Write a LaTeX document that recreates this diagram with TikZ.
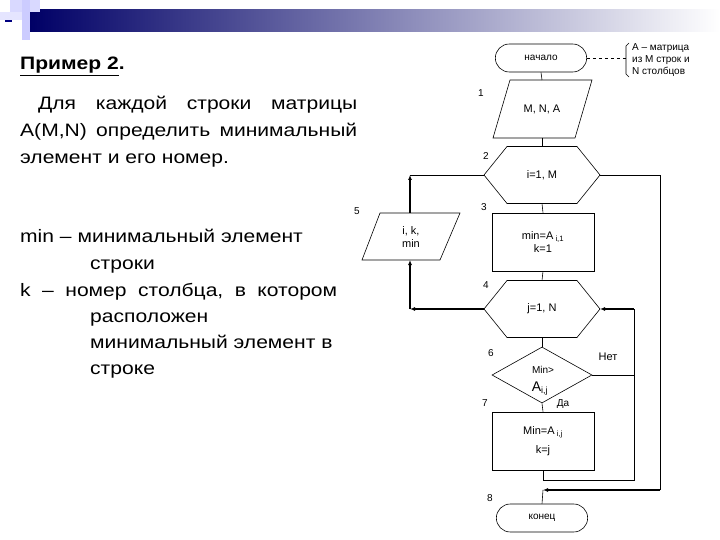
\documentclass[tikz,border=0pt]{standalone}
\usepackage{fontspec}
\setmainfont{Liberation Sans}
\newfontfamily\widefont[FakeStretch=1.17]{Liberation Sans}
\usetikzlibrary{shapes.geometric,shapes.misc,arrows.meta,calc}
\begin{document}
\begin{tikzpicture}[x=1pt,y=-1pt,
 ln/.style={draw=black,line width=0.6pt},
 tk/.style={draw=black,line width=1.3pt},
 ar/.style={-{Latex[length=5pt,width=4pt]}},
 sm/.style={font=\fontsize{11}{13}\selectfont},
 big/.style={font=\widefont\fontsize{18}{22}\selectfont,anchor=base west,inner sep=0pt},
 term/.style={ln,rounded rectangle,minimum width=98pt,minimum height=28pt,sm,font=\fontsize{10}{12}\selectfont},
 proc/.style={ln,rectangle,minimum width=102pt,minimum height=58pt,sm,align=center},
 bare/.style={align=center,sm,inner sep=0pt,minimum width=116pt,minimum height=57pt},
 num/.style={sm,font=\fontsize{10}{12}\selectfont}]
\useasboundingbox (0,0) rectangle (720,540);
\fill[white] (0,0) rectangle (720,540);
% header bar
\shade[left color=blue!40!black,right color=white] (30,10) rectangle (720,32);
\fill[blue!15] (10,0) rectangle (40,12);
\fill[blue!20] (22,0) rectangle (30,40);
\fill[blue!50!black] (5,14) rectangle (12,22);
\fill[blue!10] (0,12) rectangle (22,20);
% left text
\node[big,font=\widefont\fontsize{18}{22}\selectfont\bfseries] (t0) at (20,70) {\underline{Пример 2}.};
\node[big,text width=319pt] (t1) at (38,110) {Для\hfill каждой\hfill строки\hfill матрицы};
\node[big,text width=337pt] (t2) at (20,137) {A(M,N)\hfill определить\hfill минимальный};
\node[big] (t3) at (20,164) {элемент и его номер.};
\node[big] (t4) at (20,243) {min – минимальный элемент};
\node[big] (t5) at (90,269) {строки};
\node[big,text width=317pt] (t6) at (20,296) {k\hfill –\hfill номер\hfill столбца,\hfill в\hfill котором};
\node[big] (t7) at (90,322) {расположен};
\node[big] (t8) at (90,348) {минимальный элемент в};
\node[big] (t9) at (90,374) {строке};
% flowchart
\node[term] (start) at (541,58) {начало};
\node[bare] (p1) at (542,109) {M, N, A};
\draw[ln] ($(p1)+(-32,-29)$) -- ($(p1)+(50,-29)$) -- ($(p1)+(33,29)$) -- ($(p1)+(-49,29)$) -- cycle;
\node[bare] (h2) at (542,175) {i=1, M};
\draw[ln] ($(h2)+(-58,0)$) -- ($(h2)+(-35,-28.5)$) -- ($(h2)+(35,-28.5)$) -- ($(h2)+(58,0)$) -- ($(h2)+(35,28.5)$) -- ($(h2)+(-35,28.5)$) -- cycle;
\node[proc] (r3) at (543,242) {min=A\textsubscript{ i,1}\\k=1};
\node[bare] (h4) at (542,309) {j=1, N};
\draw[ln] ($(h4)+(-58,0)$) -- ($(h4)+(-35,-28.5)$) -- ($(h4)+(35,-28.5)$) -- ($(h4)+(58,0)$) -- ($(h4)+(35,28.5)$) -- ($(h4)+(-35,28.5)$) -- cycle;
\node[ln,diamond,aspect=1.8,minimum width=100pt,minimum height=56pt,inner sep=0pt] (d6) at (542,375) {};
\node[sm,font=\fontsize{10}{12}\selectfont] (d6a) at (543,370) {Min>};
\node[sm,font=\fontsize{14}{16}\selectfont] (d6b) at (540,389) {A\textsubscript{\fontsize{9}{10}\selectfont i,j}};
\node[proc] (r7) at (543,441) {Min=A\textsubscript{ i,j}\\[6pt]k=j};
\node[term] (end) at (542,518) {конец};
\node[bare,minimum width=80pt,minimum height=47pt] (p5) at (411,237) {i, k,\\min};
\draw[ln] ($(p5)+(-31,-24)$) -- ($(p5)+(49,-24)$) -- ($(p5)+(29,23)$) -- ($(p5)+(-49,23)$) -- cycle;
% numbers
\node[num] (n1) at (481,93) {1};
\node[num] (n2) at (486,156) {2};
\node[num] (n3) at (484,207) {3};
\node[num] (n4) at (486,285) {4};
\node[num] (n5) at (357,211) {5};
\node[num] (n6) at (491,353) {6};
\node[num] (n7) at (485,403) {7};
\node[num] (n8) at (490,498) {8};
\node[sm] (net) at (608,357) {Нет};
\node[sm,font=\fontsize{10}{12}\selectfont] (da) at (563,404) {Да};
% note
\node[sm,font=\fontsize{10}{12}\selectfont,align=left,anchor=west,inner sep=0pt] (note) at (632,60) {А – матрица\\из М строк и\\N столбцов};
\draw[ln] (629,43) -- (626,46) -- (626,74) -- (629,77);
\draw[ln,dashed] (start.east) -- (626,58);
% connectors
\draw[ln] (start.south) -- ($(p1)+(0,-29)$);
\draw[ln] ($(p1)+(0,29)$) -- ($(h2)+(0,-28.5)$);
\draw[ln] ($(h2)+(0,28.5)$) -- (r3.north);
\draw[ln] (r3.south) -- ($(h4)+(0,-28.5)$);
\draw[ln] ($(h4)+(0,28.5)$) -- (d6.north);
\draw[ln] (d6.south) -- (r7.north);
\coordinate (a1) at (410,309);
\coordinate (a2) at (410,175);
\coordinate (p5b) at (410,260);
\coordinate (p5t) at (410,213);
\draw[tk,ar] ($(h4)+(-58,0)$) -- (a1);
\draw[tk,ar] (a1) -- (p5b);
\draw[tk,ar] (p5t) -- (a2);
\draw[ln] (a2) -- ($(h2)+(-58,0)$);
\coordinate (b1) at (660,175);
\coordinate (b2) at (660,490);
\coordinate (b3) at (543,490);
\draw[ln] ($(h2)+(58,0)$) -- (b1) -- (b2);
\draw[tk,ar] (b2) -- (b3);
\draw[ln] (b3) -- (end.north);
\coordinate (c1) at (543,480);
\coordinate (c2) at (634,480);
\coordinate (c3) at (634,309);
\coordinate (c4) at (634,375);
\draw[ln] (r7.south) -- (c1) -- (c2) -- (c3);
\draw[ln] (d6.east) -- (c4);
\draw[tk,ar] (c3) -- ($(h4)+(58,0)$);
\end{tikzpicture}
\end{document}
